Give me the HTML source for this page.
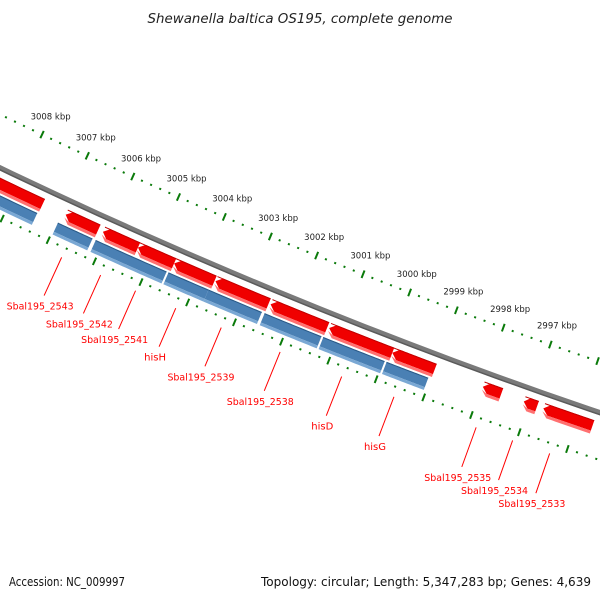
<!DOCTYPE html>
<html><head><meta charset="utf-8"><style>
html,body{margin:0;padding:0;background:#fff;}
svg{display:block;font-family:"DejaVu Sans","Liberation Sans",sans-serif;}
</style></head><body>
<svg id="chart" width="600" height="600" viewBox="0 0 600 600" xmlns="http://www.w3.org/2000/svg">
<text x="300" y="23" text-anchor="middle" font-size="13" font-style="italic" fill="#222" textLength="305" lengthAdjust="spacingAndGlyphs">Shewanella baltica OS195, complete genome</text>
<g id="layer"></g>
<text x="9" y="586" font-size="12" fill="#111" textLength="116" lengthAdjust="spacingAndGlyphs">Accession: NC_009997</text>
<text x="591" y="586" text-anchor="end" font-size="12" fill="#111" textLength="330" lengthAdjust="spacingAndGlyphs">Topology: circular; Length: 5,347,283 bp; Genes: 4,639</text>
</svg>
<script>
// data (kbp)
const majorTicks = [2994,2995,2996,2997,2998,2999,3000,3001,3002,3003,3004,3005,3006,3007,3008,3009,3010];
const tickLabels = ["2997 kbp","2998 kbp","2999 kbp","3000 kbp","3001 kbp","3002 kbp","3003 kbp","3004 kbp","3005 kbp","3006 kbp","3007 kbp","3008 kbp"];
const tickLabelPos = [2997,2998,2999,3000,3001,3002,3003,3004,3005,3006,3007,3008];
const forwardStarts = [3009.5,3006.90,3006.09,3005.33,3004.55,3003.66,3002.48,3001.23,2999.89,2997.98,2997.12,2996.71];
const forwardEnds   = [3007.40,3006.19,3005.33,3004.55,3003.68,3002.52,3001.27,2999.89,2998.99,2997.59,2996.84,2995.68];
const reverseStarts = [3009.5,3006.97,3006.15,3004.58,3003.72,3002.52,3001.27,2999.93];
const reverseEnds   = [3007.42,3006.22,3004.62,3003.72,3002.58,3001.31,2999.97,2999.05];
const geneNames = ["Sbal195_2543","Sbal195_2542","Sbal195_2541","hisH","Sbal195_2539","Sbal195_2538","hisD","hisG","Sbal195_2535","Sbal195_2534","Sbal195_2533"];
const geneLabelPos = [3006.62,3005.78,3005.03,3004.17,3003.20,3001.95,3000.65,2999.55,2997.83,2997.07,2996.30];

const NS="http://www.w3.org/2000/svg";
const layer=document.getElementById('layer');
const CX=2339, CY=-4705, R0=5405;
function ang(k){return (114.32+0.535*(k-3006))*Math.PI/180;}
function pt(k,r){const t=ang(k);return [CX+r*Math.cos(t),CY+r*Math.sin(t)];}
function mk(tag,attrs){const e=document.createElementNS(NS,tag);for(const a in attrs)e.setAttribute(a,attrs[a]);layer.appendChild(e);return e;}
function arcPts(k1,k2,r){const pts=[];const n=20;for(let i=0;i<=n;i++){pts.push(pt(k1+(k2-k1)*i/n,r));}return pts;}
function ps(pts){return pts.map(p=>p[0].toFixed(2)+','+p[1].toFixed(2)).join(' ');}

// backbone
{const p=arcPts(3012,2993,R0);
const e=mk('polyline',{points:ps(p),fill:'none',stroke:'#7a7a7a','stroke-width':5});


const e2=mk('polyline',{points:ps(arcPts(3012,2993,R0+2)),fill:'none',stroke:'#5a5a5a','stroke-width':1.5});

}

// ticks
[5357,5450].forEach((r,ri)=>{
  majorTicks.forEach(k=>{
    for(let j=0;j<5;j++){
      const kk=k+j*0.2;
      if(j===0){const a=pt(kk,r-4),b=pt(kk,r+4);
        const e=mk('line',{x1:a[0],y1:a[1],x2:b[0],y2:b[1],stroke:'#0a7a0a','stroke-width':2});
        
        
      } else {const a=pt(kk,r-1),b=pt(kk,r+1);
        const e=mk('line',{x1:a[0],y1:a[1],x2:b[0],y2:b[1],stroke:'#0a7a0a','stroke-width':2});
        
        }
    }
  });
});
tickLabels.forEach((t,i)=>{
  const p=pt(tickLabelPos[i],5337);
  const e=mk('text',{x:p[0],y:p[1]+3,'text-anchor':'middle','font-size':8.5,fill:'#222'});
  e.textContent=t;
  
  
});

// genes
function gene(k1,k2,rt,rb,col,light,dark,arrow,name){
  const rs=rb-3;
  if(arrow){const tip=k1-Math.min(0.12,(k1-k2)*0.4);
    const main=[...arcPts(tip,k2,rt),...arcPts(k2,tip,rs),pt(k1,(rt+rs)/2)];
    const e=mk('polygon',{points:ps(main),fill:col});
    
    
    const s=[...arcPts(tip,k2,rs),...arcPts(k2,tip,rb),pt(k1,(rt+rs)/2+3)];
    const e2=mk('polygon',{points:ps(s),fill:light});
    
    
  } else {
    const main=[...arcPts(k1,k2,rt),...arcPts(k2,k1,rs)];
    const e=mk('polygon',{points:ps(main),fill:col});
    
    
    const s=[...arcPts(k1,k2,rs),...arcPts(k2,k1,rb)];
    const e2=mk('polygon',{points:ps(s),fill:light});
    
    
  }
  const l=mk('polyline',{points:ps(arcPts(k1,k2,rt+0.5)),fill:'none',stroke:dark,'stroke-width':1});
  
  
}
forwardStarts.forEach((k,i)=>gene(k,forwardEnds[i],5414,5428,'#f00000','#ff7070','#c00000',true,'forward-gene'));
reverseStarts.forEach((k,i)=>gene(k,reverseEnds[i],5430,5443,'#4a80b4','#7aa8d4','#2a5a88',false,'reverse-gene'));

// labels
geneNames.forEach((n,i)=>{
  const k=geneLabelPos[i];
  const a=pt(k,5460),b=pt(k,5502);
  const l=mk('line',{x1:a[0],y1:a[1],x2:b[0],y2:b[1],stroke:'#f00','stroke-width':1});
  
  
  const attrs={x:b[0]-4,y:b[1]+14,'text-anchor':'middle','font-size':10,fill:'#f00'};
  if(n.length>6){attrs.textLength=67;attrs.lengthAdjust='spacingAndGlyphs';}
  const t=mk('text',attrs);
  t.textContent=n;
  
  
});
</script>
</body></html>
